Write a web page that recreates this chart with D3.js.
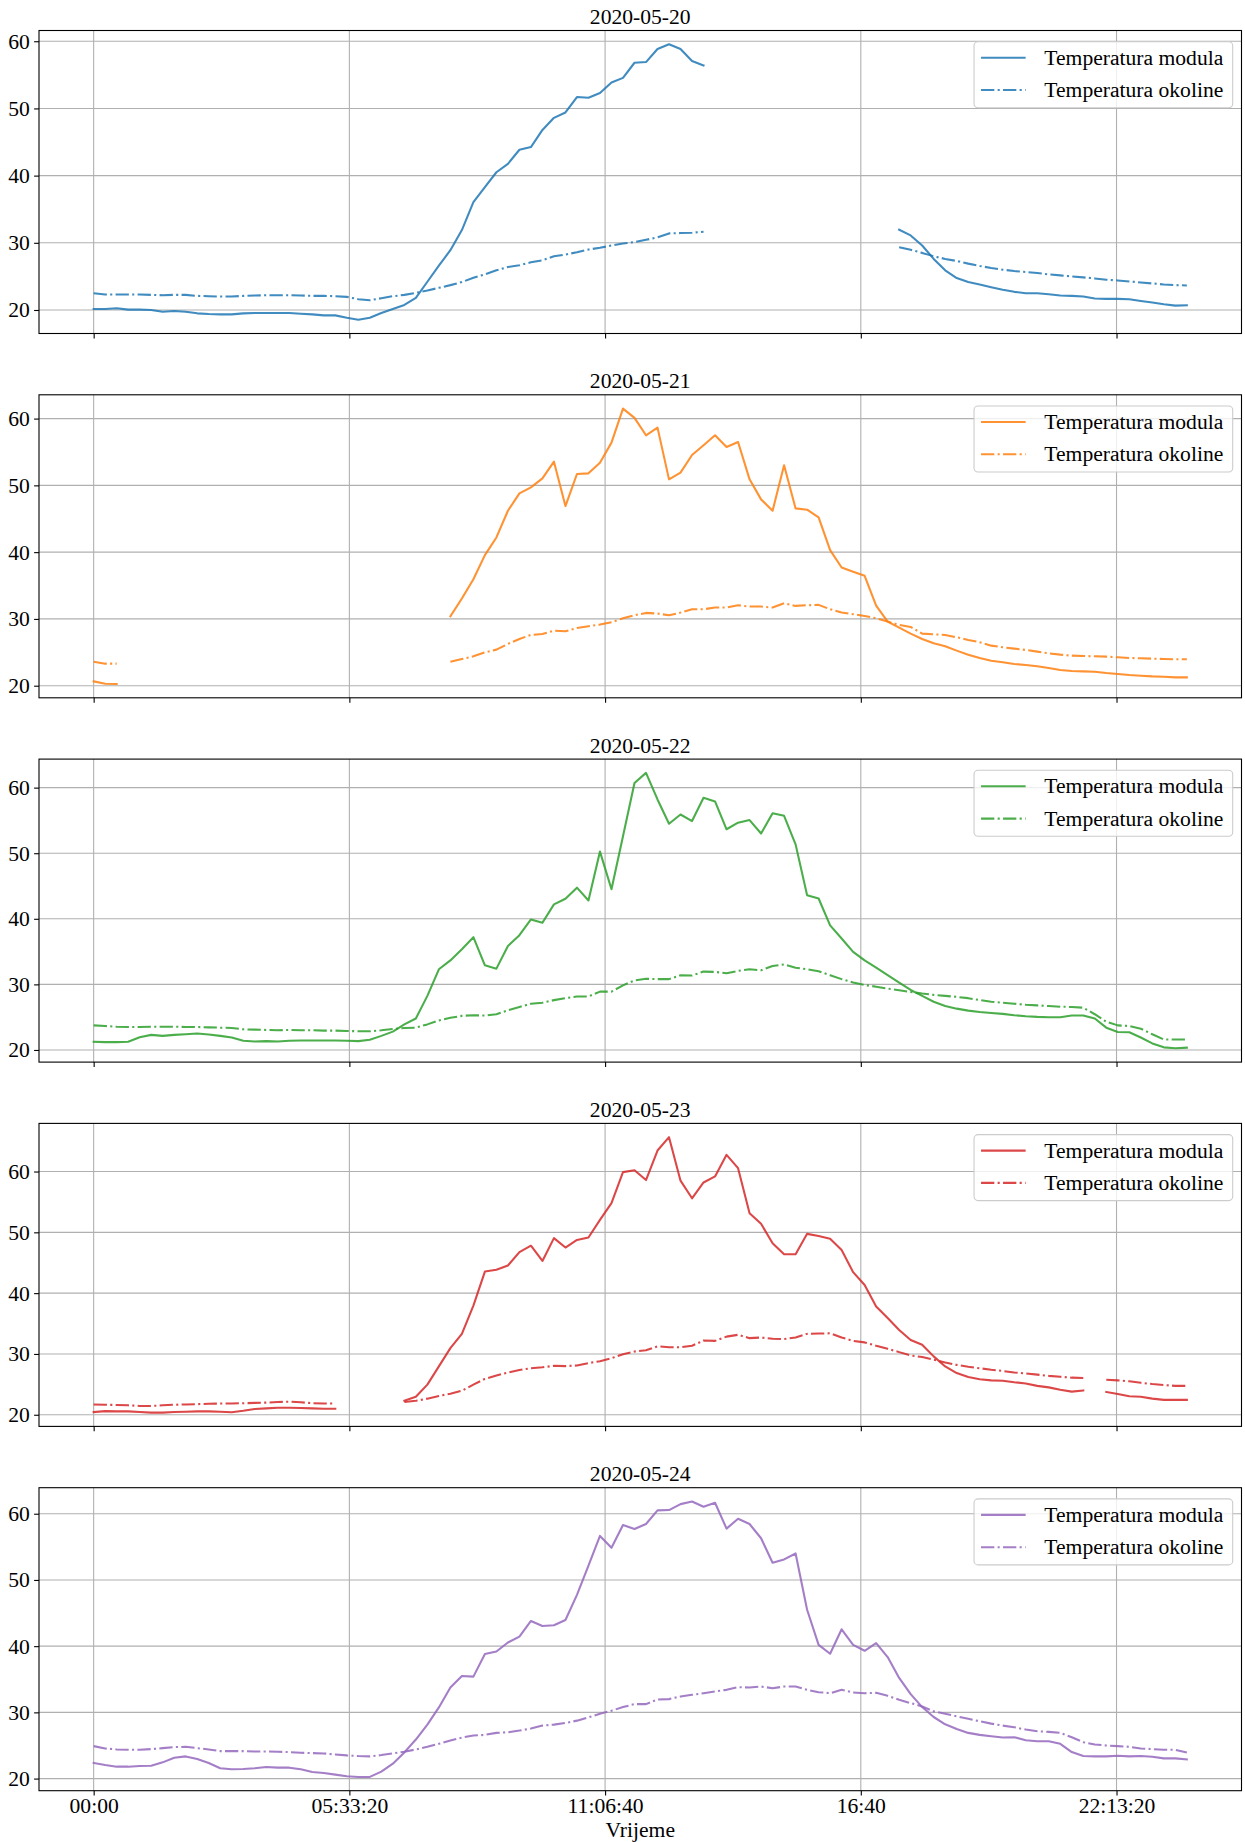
<!DOCTYPE html>
<html><head><meta charset="utf-8">
<script src="https://cdn.jsdelivr.net/npm/d3@7"></script>
<style>
body{margin:0;background:#fff}
svg{display:block}
text{font-family:"Liberation Serif","Times New Roman",serif;fill:#000}
</style>
</head><body>
<svg id="chart" width="1245" height="1842"></svg>
<script>
// ---------------- data ----------------
const days = ["2020-05-20","2020-05-21","2020-05-22","2020-05-23","2020-05-24"];
const dayColors = ["#1f77b4","#ff7f0e","#2ca02c","#d62728","#9467bd"];
const seriesLabels = ["Temperatura modula","Temperatura okoline"];
const xTickValues = [0,20000,40000,60000,80000];   // seconds since midnight
const xTickLabels = ["00:00","05:33:20","11:06:40","16:40","22:13:20"];
const yTickValues = [20,30,40,50,60];
const xLabel = "Vrijeme";
const sampleStepSeconds = 900; // 15-minute readings, 96 per day

const modul_0520 = [
20.15,20.15,20.25,20.05,20.05,20.0,19.75,19.85,19.75,19.5,
19.4,19.35,19.35,19.5,19.55,19.55,19.55,19.55,19.45,19.35,
19.2,19.2,18.85,18.55,18.85,19.55,20.15,20.75,21.8,24.2,
26.6,28.9,31.9,36.05,38.3,40.5,41.75,43.85,44.25,46.8,
48.6,49.4,51.7,51.6,52.3,53.85,54.55,56.8,56.9,58.85,
59.55,58.85,57.05,56.4,null,null,null,null,null,null,
null,null,null,null,null,null,null,null,null,null,
31.95,31.1,29.6,27.6,25.9,24.75,24.15,23.8,23.4,23.0,
22.7,22.5,22.5,22.35,22.15,22.1,22.0,21.7,21.65,21.65,
21.6,21.35,21.1,20.85,20.65,20.7];
const okolina_0520 = [
22.5,22.3,22.3,22.3,22.3,22.25,22.2,22.25,22.25,22.1,
22.05,22.0,22.0,22.1,22.15,22.2,22.2,22.2,22.15,22.1,
22.1,22.05,21.95,21.6,21.45,21.75,22.05,22.25,22.55,22.9,
23.3,23.7,24.15,24.8,25.3,25.9,26.4,26.65,27.1,27.4,
28.0,28.25,28.6,29.0,29.25,29.6,29.9,30.1,30.45,30.8,
31.4,31.45,31.5,31.65,null,null,null,null,null,null,
null,null,null,null,null,null,null,null,null,null,
29.35,28.95,28.5,28.0,27.6,27.3,26.9,26.55,26.25,26.0,
25.8,25.65,25.5,25.3,25.15,25.0,24.85,24.7,24.5,24.4,
24.25,24.1,23.95,23.8,23.7,23.65];

const modul_0521 = [
20.65,20.3,20.25,null,null,null,null,null,null,null,
null,null,null,null,null,null,null,null,null,null,
null,null,null,null,null,null,null,null,null,null,
null,30.4,33.05,35.95,39.55,42.2,46.2,48.8,49.7,51.05,
53.55,46.9,51.7,51.8,53.4,56.4,61.5,60.1,57.5,58.65,
50.9,51.9,54.55,56.0,57.5,55.75,56.5,50.9,47.9,46.2,
53.0,46.55,46.35,45.2,40.3,37.7,37.05,36.45,32.0,29.6,
28.7,27.8,27.0,26.35,25.9,25.25,24.65,24.15,23.75,23.5,
23.25,23.1,22.9,22.65,22.35,22.2,22.15,22.1,21.9,21.75,
21.6,21.5,21.4,21.35,21.25,21.25];
const okolina_0521 = [
23.6,23.3,23.3,null,null,null,null,null,null,null,
null,null,null,null,null,null,null,null,null,null,
null,null,null,null,null,null,null,null,null,null,
null,23.6,24.0,24.4,25.0,25.4,26.25,27.0,27.6,27.75,
28.25,28.15,28.65,28.9,29.15,29.5,30.1,30.55,30.9,30.8,
30.55,30.95,31.45,31.45,31.7,31.7,32.05,31.85,31.85,31.7,
32.35,31.95,32.05,32.1,31.45,30.95,30.7,30.45,30.1,29.6,
29.1,28.8,27.8,27.7,27.6,27.25,26.85,26.5,26.0,25.75,
25.55,25.35,25.1,24.85,24.65,24.5,24.45,24.4,24.35,24.25,
24.15,24.1,24.05,24.0,23.95,23.95];

const modul_0522 = [
21.25,21.2,21.2,21.25,21.95,22.3,22.15,22.3,22.4,22.5,
22.35,22.15,21.9,21.4,21.3,21.35,21.3,21.4,21.45,21.45,
21.45,21.45,21.4,21.35,21.55,22.15,22.8,23.9,24.8,28.25,
32.3,33.65,35.35,37.2,32.9,32.4,35.85,37.5,39.9,39.4,
42.2,43.05,44.75,42.8,50.25,44.5,52.6,60.7,62.25,58.2,
54.5,55.9,54.9,58.45,57.9,53.65,54.65,55.05,53.0,56.1,
55.7,51.35,43.6,43.1,39.0,37.0,34.95,33.65,32.55,31.4,
30.25,29.15,28.25,27.35,26.7,26.3,26.0,25.8,25.65,25.5,
25.3,25.15,25.05,25.0,25.0,25.25,25.25,24.8,23.4,22.75,
22.7,21.9,21.0,20.4,20.25,20.35];
const okolina_0522 = [
23.75,23.65,23.55,23.5,23.5,23.55,23.55,23.55,23.5,23.5,
23.45,23.4,23.35,23.15,23.1,23.05,23.0,23.05,23.0,23.0,
22.95,22.95,22.9,22.85,22.85,23.0,23.2,23.35,23.4,23.9,
24.5,24.9,25.2,25.3,25.25,25.45,26.05,26.55,27.05,27.2,
27.6,27.9,28.15,28.15,28.9,28.9,29.85,30.6,30.85,30.8,
30.8,31.4,31.35,31.95,31.9,31.7,32.05,32.3,32.15,32.8,
33.05,32.55,32.3,32.0,31.4,30.8,30.3,29.9,29.65,29.35,
29.1,28.85,28.6,28.4,28.25,28.1,27.9,27.6,27.35,27.2,
27.05,26.9,26.8,26.7,26.6,26.55,26.45,25.45,24.3,23.75,
23.65,23.25,22.4,21.6,21.6,21.6];

const modul_0523 = [
20.45,20.6,20.55,20.55,20.45,20.35,20.35,20.45,20.5,20.55,
20.55,20.5,20.4,20.65,20.95,21.05,21.15,21.15,21.1,21.05,
21.0,21.0,null,null,null,null,null,22.3,22.95,24.95,
27.95,30.95,33.3,37.95,43.55,43.85,44.55,46.75,47.8,45.3,
49.05,47.5,48.75,49.15,52.05,54.8,59.9,60.2,58.6,63.45,
65.65,58.5,55.6,58.2,59.2,62.75,60.55,53.15,51.4,48.2,
46.4,46.4,49.75,49.4,48.95,47.1,43.45,41.35,37.8,35.9,
33.95,32.3,31.5,29.6,27.95,26.85,26.2,25.85,25.65,25.6,
25.35,25.15,24.75,24.5,24.1,23.8,24.0,null,23.75,23.4,
23.05,22.95,22.65,22.45,22.45,22.45];
const okolina_0523 = [
21.7,21.65,21.6,21.55,21.45,21.45,21.55,21.65,21.7,21.75,
21.8,21.85,21.85,21.9,21.95,22.0,22.1,22.15,22.05,21.9,
21.85,21.85,null,null,null,null,null,22.1,22.3,22.65,
23.1,23.45,23.95,24.95,25.9,26.45,26.95,27.35,27.65,27.8,
28.05,28.0,28.1,28.5,28.8,29.3,29.95,30.4,30.6,31.25,
31.1,31.1,31.35,32.2,32.15,32.85,33.15,32.6,32.7,32.5,
32.45,32.7,33.3,33.35,33.4,32.7,32.15,31.9,31.35,30.85,
30.3,29.75,29.5,29.05,28.6,28.2,27.9,27.65,27.4,27.2,
26.95,26.8,26.6,26.4,26.25,26.1,26.05,null,25.75,25.65,
25.5,25.25,25.05,24.9,24.75,24.75];

const modul_0524 = [
22.35,22.05,21.8,21.8,21.9,21.95,22.45,23.15,23.35,22.95,
22.35,21.55,21.4,21.45,21.55,21.75,21.65,21.65,21.4,21.0,
20.85,20.6,20.35,20.25,20.25,21.05,22.25,23.95,25.9,28.15,
30.75,33.75,35.5,35.4,38.8,39.2,40.55,41.45,43.8,43.05,
43.15,43.95,47.75,52.15,56.65,54.85,58.3,57.7,58.45,60.5,
60.55,61.45,61.85,61.05,61.65,57.75,59.25,58.45,56.3,52.6,
53.1,54.0,45.5,40.2,38.85,42.55,40.2,39.3,40.45,38.35,
35.2,32.75,30.8,29.3,28.2,27.5,26.9,26.6,26.4,26.2,
26.25,25.8,25.65,25.65,25.25,24.0,23.4,23.35,23.35,23.45,
23.35,23.4,23.3,23.05,23.05,22.9];
const okolina_0524 = [
24.9,24.55,24.4,24.35,24.35,24.45,24.6,24.75,24.8,24.6,
24.4,24.15,24.15,24.15,24.1,24.1,24.05,24.0,23.9,23.85,
23.8,23.65,23.5,23.4,23.35,23.55,23.8,24.05,24.4,24.8,
25.25,25.75,26.2,26.5,26.6,26.9,27.0,27.25,27.55,28.0,
28.15,28.4,28.75,29.25,29.8,30.25,30.8,31.25,31.25,31.95,
32.0,32.4,32.65,32.9,33.15,33.4,33.8,33.75,33.9,33.65,
33.9,33.9,33.4,33.05,32.9,33.4,33.0,32.9,32.95,32.5,
31.9,31.4,30.9,30.15,29.8,29.4,29.05,28.65,28.3,28.0,
27.75,27.4,27.15,27.05,26.9,26.25,25.5,25.15,25.0,24.9,
24.8,24.55,24.45,24.35,24.35,23.95];

const modulByDay = [modul_0520, modul_0521, modul_0522, modul_0523, modul_0524];
const okolinaByDay = [okolina_0520, okolina_0521, okolina_0522, okolina_0523, okolina_0524];

// ---------------- layout ----------------
const FS = 21.6;
const fontFam = '"Liberation Serif","Times New Roman",serif';
const axLeft = 39, axRight = 1241.5;
const panelTop0 = 30.5, panelStep = 364.3, panelH = 303;
const plotW = axRight - axLeft;
const LW = 2.08;
const lineOpacity = 0.85;
const dashDot = "13.3,3.3,2.1,3.3";
const gridColor = "#b0b0b0";

const svg = d3.select("#chart");

const nPts = modul_0520.length;
const times = d3.range(nPts).map(i => i * sampleStepSeconds);
const tMax = times[nPts - 1];
const x = d3.scaleLinear()
  .domain([-0.05 * tMax, tMax * 1.05])
  .range([0, plotW]);

days.forEach((day, k) => {
  const top = panelTop0 + k * panelStep;
  const g = svg.append("g").attr("transform", `translate(${axLeft},${top})`);
  const color = dayColors[k];
  const mod = modulByDay[k], oko = okolinaByDay[k];
  const vals = mod.concat(oko).filter(v => v != null);
  const lo = d3.min(vals), hi = d3.max(vals), pad = 0.05 * (hi - lo);
  const y = d3.scaleLinear().domain([lo - pad, hi + pad]).range([panelH, 0]);
  const yTicks = yTickValues.filter(v => v >= y.domain()[0] && v <= y.domain()[1]);

  // grid
  const grid = g.append("g");
  grid.selectAll("line.gx").data(xTickValues).enter().append("line")
    .attr("x1", d => x(d)).attr("x2", d => x(d)).attr("y1", 0).attr("y2", panelH)
    .attr("stroke", gridColor).attr("stroke-width", 1.1);
  grid.selectAll("line.gy").data(yTicks).enter().append("line")
    .attr("x1", 0).attr("x2", plotW).attr("y1", d => y(d)).attr("y2", d => y(d))
    .attr("stroke", gridColor).attr("stroke-width", 1.1);

  // clip
  const cid = "clip" + k;
  g.append("clipPath").attr("id", cid).append("rect")
    .attr("x", 0).attr("y", 0).attr("width", plotW).attr("height", panelH);

  const line = d3.line()
    .defined(d => d[1] != null)
    .x(d => x(d[0])).y(d => y(d[1]));
  const lines = g.append("g").attr("clip-path", `url(#${cid})`);
  lines.append("path").datum(mod.map((v, i) => [times[i], v]))
    .attr("d", line).attr("fill", "none").attr("stroke", color).attr("stroke-opacity", lineOpacity)
    .attr("stroke-width", LW).attr("stroke-linejoin", "round").attr("stroke-linecap", "square");
  lines.append("path").datum(oko.map((v, i) => [times[i], v]))
    .attr("d", line).attr("fill", "none").attr("stroke", color).attr("stroke-opacity", lineOpacity)
    .attr("stroke-width", LW).attr("stroke-linejoin", "round").attr("stroke-linecap", "butt")
    .attr("stroke-dasharray", dashDot);

  // axes via d3 axis generators
  const yAxis = d3.axisLeft(y).tickValues(yTicks).tickSize(4.9).tickPadding(4.2)
    .tickFormat(d3.format("d"));
  const ya = g.append("g").call(yAxis);
  ya.attr("font-family", null).attr("font-size", null);
  ya.select(".domain").remove();
  ya.selectAll(".tick line").attr("stroke", "#000").attr("stroke-width", 1.1);
  ya.selectAll(".tick text").attr("font-size", FS).style("font-family", fontFam).attr("fill", "#000");

  const xAxis = d3.axisBottom(x).tickValues(xTickValues).tickSize(4.9).tickPadding(2)
    .tickFormat((d, i) => k === days.length - 1 ? xTickLabels[i] : "");
  const xa = g.append("g").attr("transform", `translate(0,${panelH})`).call(xAxis);
  xa.attr("font-family", null).attr("font-size", null);
  xa.select(".domain").remove();
  xa.selectAll(".tick line").attr("stroke", "#000").attr("stroke-width", 1.1);
  xa.selectAll(".tick text").attr("font-size", FS).style("font-family", fontFam).attr("fill", "#000");

  // spines
  g.append("rect").attr("x", 0).attr("y", 0).attr("width", plotW).attr("height", panelH)
    .attr("fill", "none").attr("stroke", "#000").attr("stroke-width", 1.1);

  // title
  g.append("text").attr("x", plotW / 2).attr("y", -6.5).attr("text-anchor", "middle")
    .attr("font-size", FS).text(day);

  // legend
  const lg = g.append("g");
  const texts = seriesLabels.map((s, j) => lg.append("text")
    .attr("font-size", FS).attr("y", 27.2 + j * 32.3).attr("dy", "0.33em").text(s));
  const tw = d3.max(texts, t => t.node().getComputedTextLength());
  const boxW = 70.3 + tw + 9.4;
  const bx = plotW - 8.8 - boxW;
  lg.insert("rect", "text").attr("x", bx).attr("y", 11.2).attr("width", boxW).attr("height", 66)
    .attr("rx", 4).attr("fill", "#fff").attr("fill-opacity", 0.8)
    .attr("stroke", "#cccccc").attr("stroke-width", 1.1);
  texts.forEach(t => t.attr("x", bx + 70.3));
  seriesLabels.forEach((s, j) => {
    const yy = 27.2 + j * 32.3;
    lg.append("line").attr("x1", bx + 7).attr("x2", bx + 51.6).attr("y1", yy).attr("y2", yy)
      .attr("stroke", color).attr("stroke-opacity", lineOpacity).attr("stroke-width", LW)
      .attr("stroke-dasharray", j === 1 ? dashDot : null);
  });
});

// x label
svg.append("text").attr("x", axLeft + plotW / 2).attr("y", 1837).attr("text-anchor", "middle")
  .attr("font-size", FS).text(xLabel);
</script>
</body></html>
